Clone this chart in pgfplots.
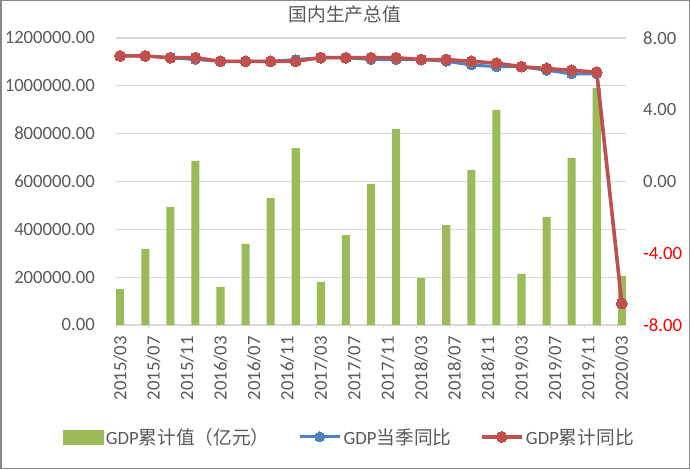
\documentclass[border=0pt]{standalone}
\usepackage{pgfplots}
\pgfplotsset{compat=1.18}
\usepackage{fontspec}
\setmainfont{Carlito}
\newfontfamily\cjk{Noto Sans CJK SC}
\definecolor{barc}{HTML}{9BBB59}
\definecolor{bluec}{HTML}{4F81BD}
\definecolor{redc}{HTML}{C0504D}
\definecolor{gridc}{HTML}{D9D9D9}
\definecolor{textc}{HTML}{595959}
\definecolor{borderc}{HTML}{878787}
\definecolor{negred}{HTML}{FF0000}
\newcommand\lab{\fontsize{18.7pt}{22pt}\selectfont}
\begin{document}
\begin{tikzpicture}[x=1pt,y=1pt]
\fill[white] (0,0) rectangle (690,469);
\draw[color=borderc, line width=1.5pt] (0.75,0.75) rectangle (689.25,468.25);
\begin{axis}[
  at={(116pt,144pt)}, anchor=south west,
  scale only axis, width=510pt, height=287pt,
  xmin=-0.5, xmax=60.5, ymin=0, ymax=1200000,
  axis line style={draw=none},
  ymajorgrids, grid style={color=gridc, line width=1.3pt},
  scaled y ticks=false,
  ytick={0,200000,400000,600000,800000,1000000,1200000},
  yticklabels={0.00,200000.00,400000.00,600000.00,800000.00,1000000.00,1200000.00},
  xtick={0,4,8,12,16,20,24,28,32,36,40,44,48,52,56,60},
  xticklabels={2015/03,2015/07,2015/11,2016/03,2016/07,2016/11,2017/03,2017/07,2017/11,2018/03,2018/07,2018/11,2019/03,2019/07,2019/11,2020/03},
  major tick length=0pt,
  xtick pos=bottom,
  xtick style={color=gridc, line width=1pt},
  ytick style={draw=none},
  extra x ticks={-0.5,3.5,7.5,11.5,15.5,19.5,23.5,27.5,31.5,35.5,39.5,43.5,47.5,51.5,55.5,59.5},
  extra x tick labels={},
  extra x tick style={major tick length=3pt, tick align=outside},
  tick label style={font=\lab, color=textc},
  yticklabel style={anchor=east, inner sep=0pt, xshift=-21pt},
  xticklabel style={yshift=-11pt, rotate=90, anchor=east, inner sep=0pt},
  title={\cjk 国内生产总值},
  title style={at={(0.449,1.0627)}, anchor=center, inner sep=0pt, font=\lab, color=textc},
]
\addplot[ybar, bar width=0.96, fill=barc, draw=none] coordinates {
(0,150500) (3,317800) (6,493400) (9,685800)
(12,158900) (15,338700) (18,531000) (21,740000)
(24,179800) (27,376300) (30,589600) (33,819700)
(36,196500) (39,418100) (42,648100) (45,899000)
(48,213300) (51,451600) (54,698300) (57,991000)
(60,204900)};
\end{axis}
\begin{axis}[
  at={(116pt,144pt)}, anchor=south west,
  scale only axis, width=510pt, height=287pt,
  xmin=-0.5, xmax=60.5, ymin=-8, ymax=8,
  axis line style={draw=none},
  xtick=\empty,
  ytick={-8,-4,0,4,8},
  yticklabels={\textcolor{negred}{-8.00},\textcolor{negred}{-4.00},0.00,4.00,8.00},
  yticklabel pos=right,
  major tick length=0pt,
  ytick style={draw=none},
  tick label style={font=\lab, color=textc},
  yticklabel style={anchor=west, inner sep=0pt, xshift=17pt},
  legend image code/.code={\draw[mark repeat=2,mark phase=2,#1] plot coordinates {(0pt,0pt) (20pt,0pt) (40pt,0pt)};},
  legend style={at={(0.458,-0.39)}, anchor=center, draw=none, fill=none,
    legend columns=3, font=\lab, text=textc,
    nodes={inner sep=2.5pt},
    /tikz/every even column/.append style={column sep=26pt}},
  legend cell align=left,
]
\addlegendimage{legend image code/.code={\fill[barc] (0pt,-7pt) rectangle (40pt,7pt);}}
\addlegendentry{GDP{\cjk 累计值（亿元）}}
\addplot[color=bluec, line width=3pt, mark=*, mark size=5pt, mark options={fill=bluec, draw=bluec, line width=0pt}] coordinates {
(0,7.0) (3,7.0) (6,6.9) (9,6.8)
(12,6.7) (15,6.7) (18,6.7) (21,6.8)
(24,6.9) (27,6.9) (30,6.8) (33,6.8)
(36,6.8) (39,6.7) (42,6.5) (45,6.4)
(48,6.4) (51,6.2) (54,6.0) (57,6.0)
(60,-6.8)};
\addlegendentry{GDP{\cjk 当季同比}}
\addplot[color=redc, line width=3.5pt, mark=*, mark size=5.5pt, mark options={fill=redc, draw=redc, line width=0pt}] coordinates {
(0,7.0) (3,7.0) (6,6.9) (9,6.9)
(12,6.7) (15,6.7) (18,6.7) (21,6.7)
(24,6.9) (27,6.9) (30,6.9) (33,6.9)
(36,6.8) (39,6.8) (42,6.7) (45,6.6)
(48,6.4) (51,6.3) (54,6.2) (57,6.1)
(60,-6.8)};
\addlegendentry{GDP{\cjk 累计同比}}
\end{axis}
\end{tikzpicture}
\end{document}
